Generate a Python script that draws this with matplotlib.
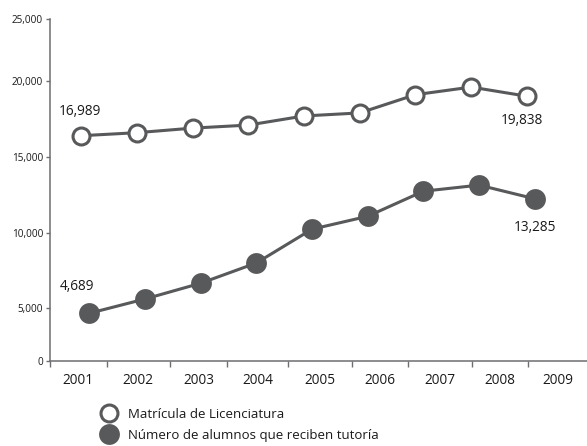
import matplotlib
matplotlib.use('Agg')
import matplotlib.pyplot as plt
import matplotlib.transforms as mtransforms
from matplotlib.lines import Line2D
import numpy as np

plt.rcParams['font.family'] = ['Open Sans', 'DejaVu Sans']

# data
years = [2001, 2002, 2003, 2004, 2005, 2006, 2007, 2008, 2009]
year_labels = ['2001', '2002', '2003', '2004', '2005', '2006', '2007', '2008', '2009']
matricula = [16400, 16600, 16900, 17100, 17700, 17900, 19100, 19600, 19000]
tutoria = [4500, 5600, 6650, 8000, 10250, 11100, 12750, 13150, 12250]
matricula_labels = ['16,989', '19,838']
tutoria_labels = ['4,689', '13,285']
series_names = ['Matrícula de Licenciatura', 'Número de alumnos que reciben tutoría']
ytick_values = [0, 5000, 10000, 15000, 20000, 25000]
ytick_labels = ['0', '5,000', '10,000', '15,000', '20,000', '25,000']

# the original axis is not evenly spaced: heights (px) of its tick marks
tick_heights = [0, 53, 128, 204, 280, 342]


def forward(v):
    return np.interp(v, ytick_values, tick_heights)


def inverse(h):
    return np.interp(h, tick_heights, ytick_values)


# tick marks between the year labels
x_bounds = [2000.44, 2001.46, 2002.59, 2003.62, 2004.71, 2005.86, 2006.87, 2008.01, 2009.02, 2010.08]

gray = '#58595b'
text_color = '#1a1a1a'

fig = plt.figure(figsize=(5.87, 4.46), dpi=100)
ax = fig.add_axes([50 / 587, 1 - 361 / 446, 537 / 587, 342 / 446])
ax.set_yscale('function', functions=(forward, inverse))
ax.set_ylim(0, 25000)
ax.set_xlim(x_bounds[0], x_bounds[-1])

ax.plot(years, matricula, color=gray, lw=2.2, marker='o', ms=12.2, mfc='white',
        mec=gray, mew=2.2, zorder=3, clip_on=False)
shift = mtransforms.ScaledTranslation(0.08, 0, fig.dpi_scale_trans)
ax.plot(years, tutoria, color=gray, lw=2.2, marker='o', ms=15, mfc=gray, mew=0,
        zorder=3, clip_on=False, transform=ax.transData + shift)

# value labels at first and last points
ax.annotate(matricula_labels[0], xy=(years[0], matricula[0]), xytext=(-0.7, 17.3),
            textcoords='offset points', ha='center', va='center', fontsize=9.8, color=text_color)
ax.annotate(matricula_labels[1], xy=(years[-1], matricula[-1]), xytext=(-3.6, -17.3),
            textcoords='offset points', ha='center', va='center', fontsize=9.8, color=text_color)
ax.annotate(tutoria_labels[0], xy=(years[0], tutoria[0]), xytext=(-3, 19.4),
            textcoords='offset points', ha='center', va='center', fontsize=9.8, color=text_color)
ax.annotate(tutoria_labels[1], xy=(years[-1], tutoria[-1]), xytext=(5.8, -20.9),
            textcoords='offset points', ha='center', va='center', fontsize=9.8, color=text_color)

# axes
for side in ['top', 'right']:
    ax.spines[side].set_visible(False)
for side in ['left', 'bottom']:
    ax.spines[side].set_color('#6d6e71')
    ax.spines[side].set_linewidth(1.1)

ax.set_yticks(ytick_values)
ax.set_yticklabels(ytick_labels)
ax.tick_params(axis='y', length=3, width=1, color='#6d6e71', pad=2,
               labelsize=7.2, labelcolor=text_color)

ax.set_xticks(x_bounds[:-1])
ax.set_xticklabels([])
mids = [(a + b) / 2 for a, b in zip(x_bounds[:-1], x_bounds[1:])]
ax.set_xticks(mids, minor=True)
ax.set_xticklabels(year_labels, minor=True)
ax.tick_params(axis='x', which='major', length=4, width=1, color='#6d6e71')
ax.tick_params(axis='x', which='minor', length=0, pad=8.5, labelsize=9.8, labelcolor=text_color)

# legend
handles = [
    Line2D([], [], ls='none', marker='o', ms=12.2, mfc='white', mec=gray, mew=2.2),
    Line2D([], [], ls='none', marker='o', ms=15, mfc=gray, mew=0),
]
fig.legend(handles, series_names, loc='center left', bbox_to_anchor=(0.172, 0.047),
           frameon=False, fontsize=9.5, handlelength=1.2, handletextpad=0.83,
           labelspacing=0.6, borderpad=0, borderaxespad=0, labelcolor=text_color)

fig.savefig('out.png', dpi=100)
